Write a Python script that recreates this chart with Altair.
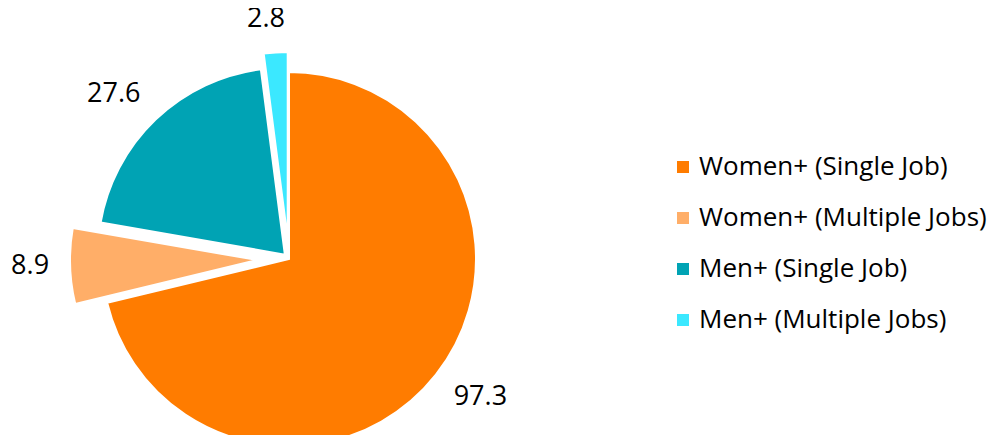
import altair as alt
import pandas as pd

categories = ["Women+ (Single Job)", "Women+ (Multiple Jobs)", "Men+ (Single Job)", "Men+ (Multiple Jobs)"]
values = [97.3, 8.9, 27.6, 2.8]
colors = ["#FF7C00", "#FFAE68", "#00A3B4", "#3BE8FF"]

# layout / style parameters (pixels / degrees)
EXPLODE = [0, 32, 6, 20]
LABEL_R = [236, 259, 241, 241]
LABEL_ROT = [-2.4, 0.3, -2.9, -1.8]
CX, CY, R = 281, 251, 187
FONT = "Open Sans"

df = pd.DataFrame({"category": categories, "value": values, "order": list(range(len(values)))})

base = (
    alt.Chart(df)
    .transform_window(cum="sum(value)", sort=[alt.SortField("order")], frame=[None, 0])
    .transform_joinaggregate(total="sum(value)")
    .transform_calculate(
        a0="(datum.cum - datum.value) / datum.total * 2 * PI",
        a1="datum.cum / datum.total * 2 * PI",
        ex=f"{EXPLODE}[datum.order]",
        lr=f"{LABEL_R}[datum.order]",
        rot=f"{LABEL_ROT}[datum.order] * PI / 180",
    )
    .transform_calculate(mid="(datum.a0 + datum.a1) / 2")
    .transform_calculate(
        cx=f"{CX} + datum.ex * sin(datum.mid)",
        cy=f"{CY} - datum.ex * cos(datum.mid)",
        lx=f"{CX} + datum.lr * sin(datum.mid + datum.rot)",
        ly=f"{CY} - datum.lr * cos(datum.mid + datum.rot)",
    )
)

arcs = base.mark_arc(outerRadius=R, stroke="white", strokeWidth=2).encode(
    theta=alt.Theta("a0:Q", scale=None, stack=None),
    theta2="a1:Q",
    x=alt.X("cx:Q", scale=None, axis=None),
    y=alt.Y("cy:Q", scale=None, axis=None),
    color=alt.Color(
        "category:N",
        sort=categories,
        scale=alt.Scale(domain=categories, range=colors),
        legend=alt.Legend(
            title=None,
            orient="none",
            legendX=662,
            legendY=146,
            symbolType="square",
            symbolSize=144,
            symbolStrokeWidth=0,
            labelFontSize=26,
            labelFont=FONT,
            labelColor="#000000",
            labelOffset=3,
            rowPadding=25,
            padding=0,
            labelLimit=400,
        ),
    ),
)

labels = base.mark_text(fontSize=27, font=FONT, color="#000000").encode(
    x=alt.X("lx:Q", scale=None, axis=None),
    y=alt.Y("ly:Q", scale=None, axis=None),
    text=alt.Text("value:Q", format=".1f"),
)

chart = (
    alt.layer(arcs, labels)
    .properties(width=989, height=427, autosize=alt.AutoSizeParams(type="none"), padding=0)
    .configure_view(stroke=None)
)

chart.save("out.html", embed_options={"renderer": "svg", "actions": False})
